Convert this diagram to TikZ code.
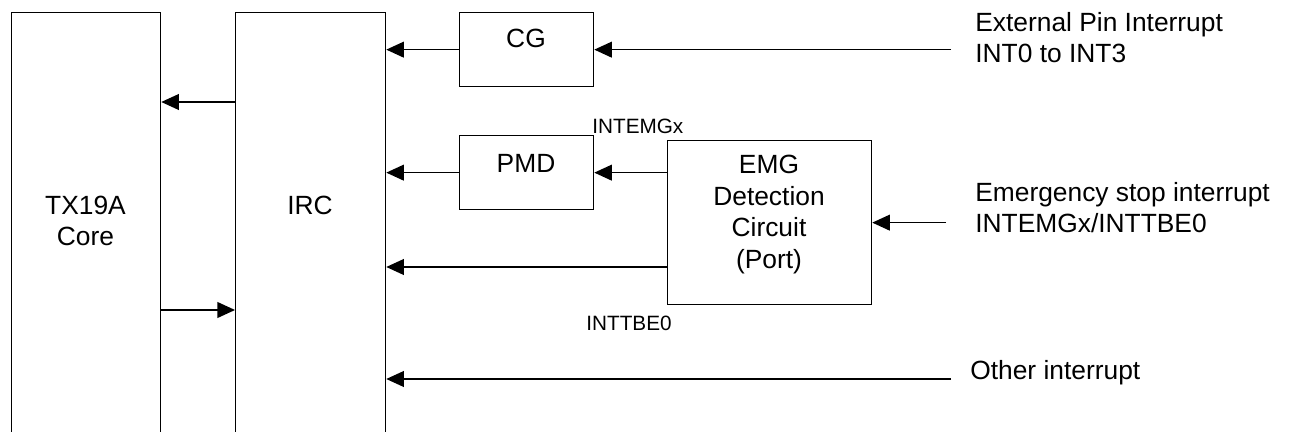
\documentclass[tikz,border=0pt]{standalone}
\usepackage{fontspec}
\setmainfont{Liberation Sans}
\usetikzlibrary{arrows.meta}

\begin{document}
\begin{tikzpicture}[x=0.02cm, y=-0.02cm,
    box/.style={draw, line width=0.75pt, inner sep=0pt, anchor=north west},
    sig/.style={line width=0.75pt, -{Triangle[length=10pt, width=9pt]}},
    big/.style={font=\fontsize{15}{18}\selectfont, align=center, inner sep=0pt},
    small/.style={font=\fontsize{11.8}{14}\selectfont, inner sep=0pt}]
    \useasboundingbox (0,0) rectangle (1289,432);

    % blocks (core and IRC run off the bottom)
    \node[box, minimum width=2.98cm, minimum height=12cm] (core) at (11,12) {};
    \node[box, minimum width=3.0cm, minimum height=12cm] (irc) at (235,12) {};
    \node[box, minimum width=2.68cm, minimum height=1.48cm] (cg) at (459,12) {};
    \node[box, minimum width=2.68cm, minimum height=1.48cm] (pmd) at (459,135) {};
    \node[box, minimum width=4.08cm, minimum height=3.28cm] (emg) at (667,140) {};

    \node[big] (coretxt) at (85.5,221) {TX19A\\Core};
    \node[big] (irctxt) at (310,205) {IRC};
    \node[big] (cgtxt) at (526,38) {CG};
    \node[big] (pmdtxt) at (526,163) {PMD};
    \node[big] (emgtxt) at (769,214.5) {EMG\\Detection\\Circuit\\(Port)};

    \node[small, anchor=west] (lblemg) at (592,126) {INTEMGx};
    \node[small, anchor=west] (lbltbe) at (586,323) {INTTBE0};

    \node[big, align=left, anchor=west] (extlbl) at (975,37.5) {External Pin Interrupt\\INT0 to INT3};
    \node[big, align=left, anchor=west] (emglbl) at (975,207.5) {Emergency stop interrupt\\INTEMGx/INTTBE0};
    \node[big, anchor=west] (othlbl) at (970,373) {Other interrupt};

    % free ends and rows
    \coordinate (extin) at (951,49);
    \coordinate (emgin) at (946,220);
    \coordinate (othin) at (951,379);
    \coordinate (rowup) at (0,102);
    \coordinate (rowdn) at (0,310);
    \coordinate (rowtbe) at (0,267);

    % connections
    \draw[sig] (irc.west |- rowup) -- (core.east |- rowup);
    \draw[sig] (core.east |- rowdn) -- (irc.west |- rowdn);
    \draw[sig] (cg.west) -- (irc.east |- cg.west);
    \draw[sig] (cg.east -| extin) -- (cg.east);
    \draw[sig] (pmd.west) -- (irc.east |- pmd.west);
    \draw[sig] (emg.west |- pmd.east) -- (pmd.east);
    \draw[sig] (emg.west |- rowtbe) -- (irc.east |- rowtbe);
    \draw[sig] (emg.east -| emgin) -- (emg.east);
    \draw[sig] (othin) -- (irc.east |- othin);
\end{tikzpicture}
\end{document}
